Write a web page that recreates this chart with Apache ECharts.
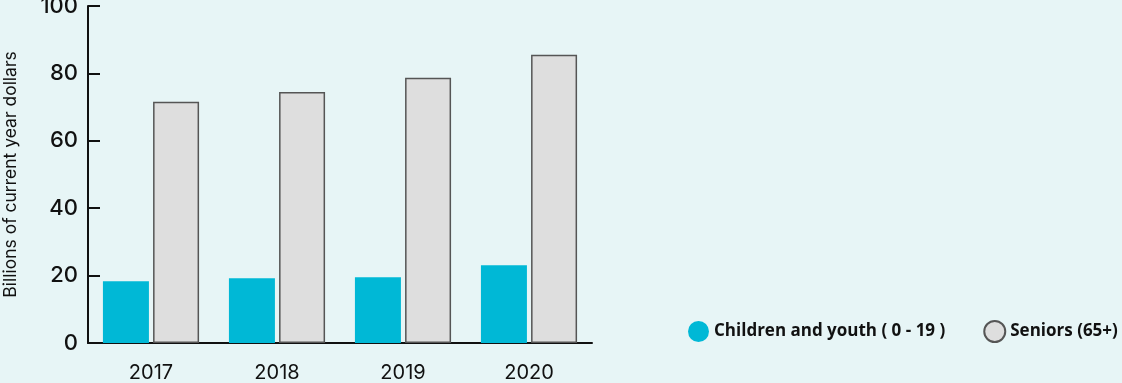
<!DOCTYPE html>
<html>
<head>
<meta charset="utf-8">
<script src="https://cdn.jsdelivr.net/npm/echarts@6/dist/echarts.min.js"></script>
<style>
html,body{margin:0;padding:0;background:#e7f5f6;}
#c{width:1122px;height:383px;}
</style>
</head>
<body>
<div id="c"></div>
<script>
const categories = ['2017', '2018', '2019', '2020'];
const children = [18.3, 19.2, 19.5, 23.1];
const seniors = [71.6, 74.5, 78.7, 85.5];
const yTicks = [0, 20, 40, 60, 80, 100];
const seriesNames = ['Children and youth ( 0 - 19 )', 'Seniors (65+)'];
const yName = 'Billions of current year dollars';

const chart = echarts.init(document.getElementById('c'));
chart.setOption({
  backgroundColor: '#e7f5f6',
  animation: false,
  grid: {left: 88, right: 530, top: 6, bottom: 40, containLabel: false, outerBoundsMode: 'none'},
  legend: {
    left: 683, top: 315,
    width: 600,
    icon: 'circle',
    itemWidth: 21, itemHeight: 21,
    itemGap: 38,
    textStyle: {fontFamily: 'Open Sans', fontWeight: 'bold', fontSize: 17, color: '#111'},
    data: seriesNames
  },
  xAxis: {
    type: 'category',
    data: categories,
    axisLine: {lineStyle: {color: '#111', width: 2}},
    axisTick: {inside: true, length: 8, lineStyle: {color: '#111', width: 2}},
    axisLabel: {fontFamily: 'Inter', fontSize: 20, color: '#111', margin: 20}
  },
  yAxis: {
    type: 'value',
    min: yTicks[0], max: yTicks[yTicks.length - 1], interval: 20,
    name: yName,
    nameLocation: 'middle',
    nameGap: 68,
    nameTextStyle: {fontFamily: 'Inter', fontSize: 17.5, color: '#111'},
    axisLine: {show: true, lineStyle: {color: '#111', width: 2}},
    axisTick: {show: true, inside: true, length: 12, lineStyle: {color: '#111', width: 2}},
    axisLabel: {fontFamily: 'Inter', fontSize: 22, fontWeight: 500, color: '#111', margin: 10},
    splitLine: {show: false}
  },
  series: [
    {
      name: seriesNames[0], type: 'bar', data: children,
      barWidth: 46, barGap: '9%',
      itemStyle: {color: '#00b8d6'}
    },
    {
      name: seriesNames[1], type: 'bar', data: seniors,
      barWidth: 46,
      itemStyle: {color: '#dedede', borderColor: '#555', borderWidth: 1.5}
    }
  ]
});
</script>
</body>
</html>
